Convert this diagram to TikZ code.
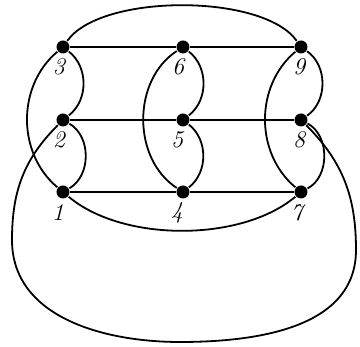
\documentclass[tikz,border=0pt]{standalone}
\usepackage{tikz}

\begin{document}
\begin{tikzpicture}[x=0.5pt, y=0.5pt, line width=0.9pt,
    vertex/.style={circle, fill=black, inner sep=0pt, minimum size=6.5pt},
    lbl/.style={font=\large\itshape, inner sep=0pt}]
    \useasboundingbox (0,0) rectangle (360,347);

    % Vertices
    \node[vertex] (v3) at (63,300) {};
    \node[vertex] (v6) at (183,300) {};
    \node[vertex] (v9) at (301,300) {};
    \node[vertex] (v2) at (63,227) {};
    \node[vertex] (v5) at (183,227) {};
    \node[vertex] (v8) at (301,227) {};
    \node[vertex] (v1) at (63,155) {};
    \node[vertex] (v4) at (183,155) {};
    \node[vertex] (v7) at (301,155) {};

    % Labels
    \node[lbl] (l3) at (59,280) {3};
    \node[lbl] (l6) at (178,280) {6};
    \node[lbl] (l9) at (299,280) {9};
    \node[lbl] (l2) at (59,207) {2};
    \node[lbl] (l5) at (177,207) {5};
    \node[lbl] (l8) at (299,207) {8};
    \node[lbl] (l1) at (58,134) {1};
    \node[lbl] (l4) at (177,134) {4};
    \node[lbl] (l7) at (297,134) {7};

    % Rows
    \draw (v3) -- (v6) -- (v9);
    \draw (v2) -- (v5) -- (v8);
    \draw (v1) -- (v4) -- (v7);

    % Columns
    \draw (v3) to[bend left=52] (v2);
    \draw (v2) to[bend left=60] (v1);
    \draw (v3) to[bend right=50] (v1);
    \draw (v6) to[bend left=52] (v5);
    \draw (v5) to[bend left=52] (v4);
    \draw (v6) to[bend right=57] (v4);
    \draw (v9) to[bend left=55] (v8);
    \draw (v8) to[bend left=62] (v7);
    \draw (v9) to[bend right=50] (v7);

    % Top and bottom arcs
    \draw (v3) to[out=55, in=125, looseness=0.65] (v9);
    \draw (v1) to[out=-40, in=-140, looseness=0.8] (v7);

    % Outer loop
    \coordinate (west) at (12,107);
    \coordinate (south) at (180,5);
    \coordinate (east) at (356,97);
    \draw (v2) to[out=225, in=90] (west) to[out=-90, in=180] (south)
        to[out=0, in=-90] (east) to[out=90, in=-45] (v8);
\end{tikzpicture}
\end{document}
